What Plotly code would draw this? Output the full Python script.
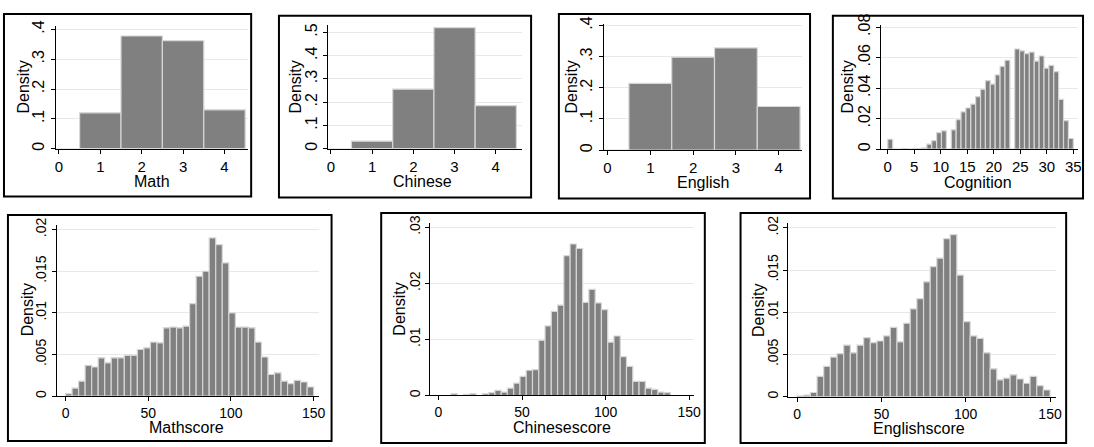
import plotly.graph_objects as go

W, H = 1094, 447

# ---------------- data ----------------
levels = [0, 1, 2, 3, 4]
math_density = [0.0, 0.120, 0.378, 0.362, 0.130]
chinese_density = [0.0, 0.032, 0.256, 0.521, 0.185]
english_density = [0.0, 0.214, 0.298, 0.328, 0.140]

cognition_range = [0, 35]
cognition_density = [0.0065, 0.0, 0.0, 0.0003, 0.0, 0.0002, 0.0003, 0.0008,
                     0.0033, 0.0056, 0.0109, 0.0120, 0.0, 0.0127, 0.0193, 0.0244,
                     0.0270, 0.0296, 0.0345, 0.0392, 0.0450, 0.0427, 0.0487, 0.0543,
                     0.0583, 0.0, 0.0657, 0.0645, 0.0627, 0.0637, 0.0578, 0.0611,
                     0.0531, 0.0549, 0.0508, 0.0326, 0.0187, 0.0070]

score_range = [0, 150]
mathscore_density = [0.0003, 0.00097, 0.0018, 0.0037, 0.0035, 0.0046, 0.0040, 0.0046,
                     0.0046, 0.0049, 0.0049, 0.0056, 0.0058, 0.0065, 0.0064, 0.0082,
                     0.0083, 0.0082, 0.0084, 0.0111, 0.0144, 0.0150, 0.0190, 0.0182,
                     0.0160, 0.0100, 0.0083, 0.0083, 0.0082, 0.0065, 0.0047, 0.0026,
                     0.0028, 0.0018, 0.0015, 0.0019, 0.0017, 0.0011]
chinesescore_density = [0.0, 0.0, 0.0003, 0.0, 0.0002, 0.0003, 0.0, 0.0003,
                        0.0005, 0.0009, 0.0006, 0.0013, 0.0022, 0.0034, 0.0045, 0.0046,
                        0.0098, 0.0124, 0.0150, 0.0161, 0.0249, 0.0270, 0.0262, 0.0166,
                        0.0189, 0.0165, 0.0153, 0.0095, 0.0106, 0.0069, 0.0052, 0.0025,
                        0.0025, 0.0013, 0.0011, 0.0006, 0.0005, 0.0, 0.0, 0.0]
englishscore_density = [0.0001, 0.0002, 0.0005, 0.0024, 0.0036, 0.0047, 0.0051, 0.0061,
                        0.0052, 0.0061, 0.0070, 0.0064, 0.0066, 0.0072, 0.0082, 0.0065,
                        0.0087, 0.0104, 0.0116, 0.0136, 0.0154, 0.0164, 0.0187, 0.0192,
                        0.0144, 0.0089, 0.0072, 0.0069, 0.0052, 0.0033, 0.0020, 0.0022,
                        0.0026, 0.0021, 0.0016, 0.0024, 0.0013, 0.0008]

# tick values / labels
x_levels_ticks = [0, 1, 2, 3, 4]
x_cognition_ticks = [0, 5, 10, 15, 20, 25, 30, 35]
x_score_ticks = [0, 50, 100, 150]
y_ticks_04 = [0, 0.1, 0.2, 0.3, 0.4]
y_text_04 = ["0", ".1", ".2", ".3", ".4"]
y_ticks_05 = [0, 0.1, 0.2, 0.3, 0.4, 0.5]
y_text_05 = ["0", ".1", ".2", ".3", ".4", ".5"]
y_ticks_cog = [0, 0.02, 0.04, 0.06, 0.08]
y_text_cog = ["0", ".02", ".04", ".06", ".08"]
y_ticks_02 = [0, 0.005, 0.01, 0.015, 0.02]
y_text_02 = ["0", ".005", ".01", ".015", ".02"]
y_ticks_03 = [0, 0.01, 0.02, 0.03]
y_text_03 = ["0", ".01", ".02", ".03"]

titles = ["Math", "Chinese", "English", "Cognition",
          "Mathscore", "Chinesescore", "Englishscore"]


def hist_bins(rng, values):
    n = len(values)
    w = (rng[1] - rng[0]) / n
    centers = [rng[0] + (k + 0.5) * w for k in range(n)]
    return centers, w


# ---------------- layout spec (pixels) ----------------
panels = [
    dict(x=levels, y=math_density, w=1.0,
         frame=(3, 3, 252, 191), dom=(55, 249.3, 15, 141.7),
         xr=[-0.08, 4.58], yr=[0, 0.413],
         xt=x_levels_ticks, yt=y_ticks_04, ytt=y_text_04,
         tpos=(152, 175.5), dpos=(23, 78), fs=15, yfs=16),
    dict(x=levels, y=chinese_density, w=1.0,
         frame=(280, 5, 534, 192), dom=(329.3, 525, 14, 141.7),
         xr=[-0.072, 4.64], yr=[0, 0.534],
         xt=x_levels_ticks, yt=y_ticks_05, ytt=y_text_05,
         tpos=(425, 175.5), dpos=(297, 78), fs=15, yfs=16),
    dict(x=levels, y=english_density, w=1.0,
         frame=(562, 3, 815, 193), dom=(607.3, 806.7, 13.3, 143.3),
         xr=[-0.086, 4.54], yr=[0, 0.405],
         xt=x_levels_ticks, yt=y_ticks_04, ytt=y_text_04,
         tpos=(706.7, 176.5), dpos=(575, 78), fs=15, yfs=16),
]

cx, cw = hist_bins(cognition_range, cognition_density)
panels.append(dict(x=cx, y=cognition_density, w=cw,
                   frame=(838, 5, 1090, 193), dom=(886.7, 1085, 14, 142.3),
                   xr=[-1.24, 35.9], yr=[0, 0.0817],
                   xt=x_cognition_ticks, yt=y_ticks_cog, ytt=y_text_cog,
                   tpos=(984.3, 176.5), dpos=(853, 78), fs=15, yfs=16))

mx, mw = hist_bins(score_range, mathscore_density)
panels.append(dict(x=mx, y=mathscore_density, w=mw,
                   frame=(7, 210, 333, 443), dom=(56, 320, 220, 396.7),
                   xr=[-5.4, 153], yr=[0, 0.0206],
                   xt=x_score_ticks, yt=y_ticks_02, ytt=y_text_02,
                   tpos=(186.7, 428.5), dpos=(26.5, 308), fs=14, yfs=14))
chx, chw = hist_bins(score_range, chinesescore_density)
panels.append(dict(x=chx, y=chinesescore_density, w=chw,
                   frame=(383, 208, 709, 445), dom=(432.3, 698.3, 218.3, 396),
                   xr=[-5, 153], yr=[0, 0.03075],
                   xt=x_score_ticks, yt=y_ticks_03, ytt=y_text_03,
                   tpos=(565, 428.5), dpos=(401.5, 307), fs=14, yfs=14))
ex, ew = hist_bins(score_range, englishscore_density)
panels.append(dict(x=ex, y=englishscore_density, w=ew,
                   frame=(745, 208, 1073, 445), dom=(793.3, 1062.7, 218.3, 397.3),
                   xr=[-5.1, 153.5], yr=[0, 0.02057],
                   xt=x_score_ticks, yt=y_ticks_02, ytt=y_text_02,
                   tpos=(925, 430), dpos=(762.5, 308), fs=14, yfs=14))

FONT = "Liberation Sans, Arial, sans-serif"
BAR_FILL = "#808080"
BAR_LINE = "#d6d6d6"
GRID = "#e8e8e8"

fig = go.Figure()
layout = dict(width=W, height=H, margin=dict(l=0, r=0, t=0, b=0),
              paper_bgcolor="white", plot_bgcolor="white", showlegend=False,
              font=dict(family=FONT, color="black"), bargap=0)
shapes = []
annotations = []

for i, p in enumerate(panels):
    n = i + 1
    xs = "x" if n == 1 else f"x{n}"
    ys = "y" if n == 1 else f"y{n}"
    fig.add_trace(go.Bar(x=p["x"], y=p["y"], width=p["w"], xaxis=xs, yaxis=ys,
                         marker=dict(color=BAR_FILL,
                                     line=dict(color=BAR_LINE, width=1.2)),
                         hoverinfo="x+y"))
    x0, x1, yt_, yb_ = p["dom"]
    layout[f"xaxis{'' if n == 1 else n}"] = dict(
        domain=[x0 / W, x1 / W], range=p["xr"], anchor=ys,
        tickmode="array", tickvals=p["xt"], ticktext=[str(v) for v in p["xt"]],
        ticks="outside", ticklen=4, tickcolor="black", tickwidth=1,
        showline=True, linecolor="black", linewidth=1,
        showgrid=False, zeroline=False,
        tickfont=dict(family=FONT, size=p["fs"], color="black"),
        fixedrange=True)
    layout[f"yaxis{'' if n == 1 else n}"] = dict(
        domain=[1 - yb_ / H, 1 - yt_ / H], range=p["yr"], anchor=xs,
        tickmode="array", tickvals=p["yt"], ticktext=p["ytt"], tickangle=-90,
        ticks="outside", ticklen=4, tickcolor="black", tickwidth=1,
        showline=True, linecolor="black", linewidth=1,
        showgrid=True, gridcolor=GRID, gridwidth=1, zeroline=False,
        tickfont=dict(family=FONT, size=p["yfs"], color="black"),
        fixedrange=True)
    fx0, fy0, fx1, fy1 = p["frame"]
    shapes.append(dict(type="rect", xref="paper", yref="paper",
                       x0=fx0 / W, x1=fx1 / W, y0=1 - fy1 / H, y1=1 - fy0 / H,
                       line=dict(color="black", width=2), fillcolor="rgba(0,0,0,0)",
                       layer="above"))
    tx, ty = p["tpos"]
    annotations.append(dict(text=titles[i], x=tx / W, y=1 - ty / H,
                            xref="paper", yref="paper", showarrow=False,
                            xanchor="center", yanchor="middle", borderpad=0,
                            font=dict(family=FONT, size=16, color="black")))
    dx, dy = p["dpos"]
    annotations.append(dict(text="Density", x=dx / W, y=1 - dy / H,
                            xref="paper", yref="paper", showarrow=False,
                            xanchor="center", yanchor="middle", textangle=-90,
                            borderpad=0,
                            font=dict(family=FONT, size=16, color="black")))

layout["shapes"] = shapes
layout["annotations"] = annotations
fig.update_layout(**layout)
fig.write_html("out.html",
               config={"displayModeBar": False, "staticPlot": True},
               post_script="document.body.style.margin='0';"
                           "document.body.style.overflow='hidden';")
